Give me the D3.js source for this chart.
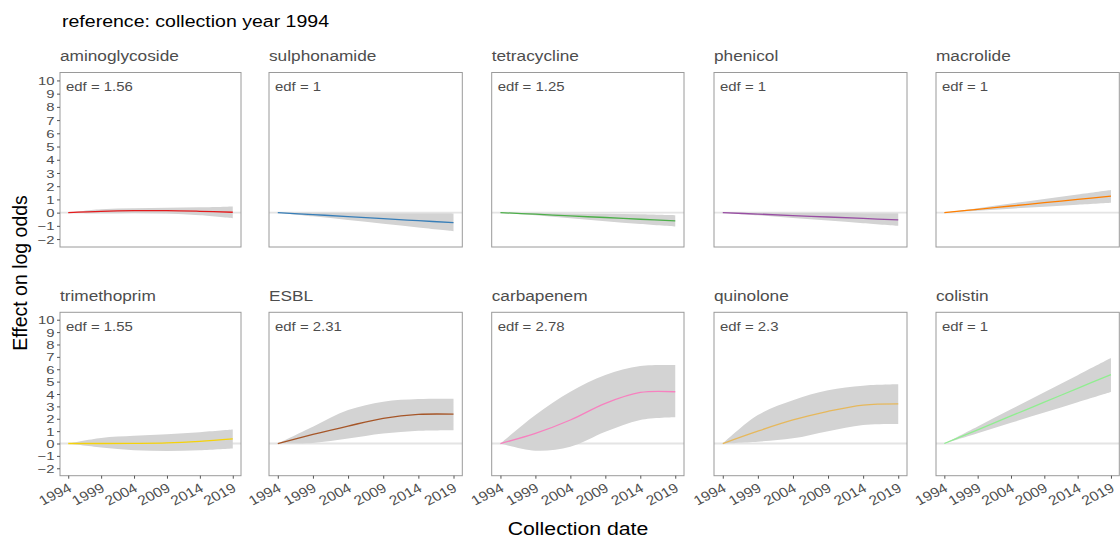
<!DOCTYPE html>
<html>
<head>
<meta charset="utf-8">
<script src="https://cdn.jsdelivr.net/npm/d3@7"></script>
<style>
  html, body { margin: 0; padding: 0; background: #ffffff; }
  svg { display: block; font-family: "Liberation Sans", Arial, Helvetica, sans-serif; }
</style>
</head>
<body>
<svg id="chart" width="1120" height="540"></svg>
<script>
// Smooth effect of collection year on log odds of resistance, per antimicrobial class
const years = [1994, 1999, 2004, 2009, 2014, 2019];
const classes = ["aminoglycoside", "sulphonamide", "tetracycline", "phenicol", "macrolide",
                 "trimethoprim", "ESBL", "carbapenem", "quinolone", "colistin"];
const edf = ["1.56", "1", "1.25", "1", "1", "1.55", "2.31", "2.78", "2.3", "1"];
const lineColors = ["#e41a1c", "#377eb8", "#4daf4a", "#984ea3", "#ff7f00",
                    "#f5d20a", "#a65628", "#f781bf", "#e6b85c", "#90ee90"];

const aminoglycosideFit   = [0, 0.10, 0.15, 0.15, 0.10, 0.03];
const aminoglycosideLower = [0, -0.05, -0.03, -0.07, -0.20, -0.42];
const aminoglycosideUpper = [0, 0.25, 0.33, 0.37, 0.40, 0.47];

const sulphonamideFit   = [0, -0.15, -0.30, -0.46, -0.61, -0.76];
const sulphonamideLower = [0, -0.28, -0.56, -0.84, -1.12, -1.40];
const sulphonamideUpper = [0, -0.01, -0.02, -0.04, -0.05, -0.06];

const tetracyclineFit   = [0, -0.12, -0.25, -0.37, -0.50, -0.63];
const tetracyclineLower = [0, -0.20, -0.43, -0.65, -0.86, -1.05];
const tetracyclineUpper = [0, -0.03, -0.06, -0.09, -0.13, -0.20];

const phenicolFit   = [0, -0.11, -0.22, -0.33, -0.44, -0.55];
const phenicolLower = [0, -0.20, -0.40, -0.60, -0.80, -1.00];
const phenicolUpper = [0, -0.01, -0.02, -0.03, -0.04, -0.05];

const macrolideFit   = [0, 0.25, 0.50, 0.75, 1.00, 1.25];
const macrolideLower = [0, 0.15, 0.30, 0.45, 0.60, 0.75];
const macrolideUpper = [0, 0.34, 0.69, 1.03, 1.38, 1.72];

const trimethoprimFit   = [0, 0.00, 0.01, 0.05, 0.18, 0.37];
const trimethoprimLower = [0, -0.32, -0.54, -0.60, -0.54, -0.40];
const trimethoprimUpper = [0, 0.45, 0.62, 0.75, 0.92, 1.13];

const esblFit   = [0, 0.73, 1.41, 2.03, 2.35, 2.37];
const esblLower = [0, 0.05, 0.40, 0.80, 1.03, 1.08];
const esblUpper = [0, 1.36, 2.70, 3.38, 3.60, 3.62];

const carbapenemFit   = [0, 0.82, 1.90, 3.25, 4.13, 4.18];
const carbapenemLower = [0, -0.58, -0.26, 0.95, 1.90, 2.12];
const carbapenemUpper = [0, 2.30, 4.18, 5.53, 6.26, 6.34];

const quinoloneFit   = [0, 1.00, 1.90, 2.60, 3.10, 3.20];
const quinoloneLower = [0, 0.15, 0.42, 1.00, 1.50, 1.58];
const quinoloneUpper = [0, 2.30, 3.50, 4.30, 4.67, 4.78];

const colistinFit   = [0, 1.11, 2.23, 3.34, 4.46, 5.57];
const colistinLower = [0, 0.83, 1.67, 2.50, 3.34, 4.17];
const colistinUpper = [0, 1.38, 2.76, 4.14, 5.52, 6.90];

const yTicks = [-2, -1, 0, 1, 2, 3, 4, 5, 6, 7, 8, 9, 10];
const xTicks = [1994, 1999, 2004, 2009, 2014, 2019];

const fits   = [aminoglycosideFit, sulphonamideFit, tetracyclineFit, phenicolFit, macrolideFit,
                trimethoprimFit, esblFit, carbapenemFit, quinoloneFit, colistinFit];
const lowers = [aminoglycosideLower, sulphonamideLower, tetracyclineLower, phenicolLower, macrolideLower,
                trimethoprimLower, esblLower, carbapenemLower, quinoloneLower, colistinLower];
const uppers = [aminoglycosideUpper, sulphonamideUpper, tetracyclineUpper, phenicolUpper, macrolideUpper,
                trimethoprimUpper, esblUpper, carbapenemUpper, quinoloneUpper, colistinUpper];

// panel grid (5 columns x 2 rows)
const colBounds = [[60, 241], [269, 462.3], [491.7, 684], [714, 907], [936, 1119.3]];
const rowBounds = [[72.5, 247], [312.3, 475.7]];
const textStretch = 1.15;   // wide lettering
const greyText = "#4d4d4d";
const smooth = d3.curveCatmullRom.alpha(0.5);

const svg = d3.select("#chart");
const defs = svg.append("defs");

// text with horizontal widening, anchored at (x, y)
function wideText(parent, x, y, str, opts) {
  const t = parent.append("text")
    .attr("transform", `translate(${x},${y}) scale(${textStretch},1)` + (opts.rotate ? ` rotate(${opts.rotate})` : ""))
    .attr("font-size", opts.size)
    .attr("fill", opts.fill || greyText)
    .attr("text-anchor", opts.anchor || "start")
    .text(str);
  if (opts.dy) t.attr("dy", opts.dy);
  return t;
}

wideText(svg, 62, 26.5, "reference: collection year 1994", {size: 17, fill: "#000"});

classes.forEach((name, i) => {
  const col = i % 5, row = Math.floor(i / 5);
  const [x0, x1] = colBounds[col];
  const [y0, y1] = rowBounds[row];

  const x = d3.scaleLinear().domain([1992.75, 2020.25]).range([x0, x1]);
  const y = d3.scaleLinear().domain([-2.6, 10.6]).range([y1, y0]);

  const clipId = "clip" + i;
  defs.append("clipPath").attr("id", clipId)
    .append("rect").attr("x", x0).attr("y", y0).attr("width", x1 - x0).attr("height", y1 - y0);

  const g = svg.append("g");
  const inner = g.append("g").attr("clip-path", `url(#${clipId})`);

  // zero reference line
  inner.append("line")
    .attr("x1", x0).attr("x2", x1)
    .attr("y1", y(0)).attr("y2", y(0))
    .attr("stroke", "#e4e4e4").attr("stroke-width", 1.8);

  const pts = years.map((yr, k) => ({yr, fit: fits[i][k], lo: lowers[i][k], hi: uppers[i][k]}));

  const area = d3.area()
    .x(d => x(d.yr)).y0(d => y(d.lo)).y1(d => y(d.hi))
    .curve(smooth);
  inner.append("path").datum(pts).attr("d", area).attr("fill", "#d3d3d3");

  const line = d3.line().x(d => x(d.yr)).y(d => y(d.fit)).curve(smooth);
  inner.append("path").datum(pts).attr("d", line)
    .attr("fill", "none").attr("stroke", lineColors[i]).attr("stroke-width", 1.3);

  // panel frame
  g.append("rect")
    .attr("x", x0).attr("y", y0).attr("width", x1 - x0).attr("height", y1 - y0)
    .attr("fill", "none").attr("stroke", "#9a9a9a").attr("stroke-width", 1);

  // edf annotation and facet title
  wideText(g, x0 + 6, y0 + 18.5, "edf = " + edf[i], {size: 13});
  wideText(g, x0, y0 - 11.3, name, {size: 15});

  // y axis on first column (compact digits so the dense ticks stay apart)
  if (col === 0) {
    const ax = g.append("g").attr("transform", `translate(${x0},0)`)
      .call(d3.axisLeft(y).tickValues(yTicks).tickSize(3).tickPadding(2).tickFormat(d3.format("d")));
    ax.select(".domain").remove();
    ax.selectAll(".tick line").attr("stroke", "#555");
    ax.selectAll(".tick text")
      .attr("font-size", 10.6).attr("fill", greyText)
      .attr("font-family", "Liberation Sans, Arial, sans-serif")
      .attr("x", null).attr("dy", null)
      .attr("transform", "translate(-5.5,4.1) scale(1.4,1.06)")
      .text(d => d < 0 ? "\u2212" + Math.abs(d) : d);
  }

  // x axis on bottom row
  if (row === 1) {
    const ax = g.append("g").attr("transform", `translate(0,${y1})`)
      .call(d3.axisBottom(x).tickValues(xTicks).tickSize(3).tickFormat(d3.format("d")));
    ax.select(".domain").remove();
    ax.selectAll(".tick line").attr("stroke", "#555");
    ax.selectAll(".tick text")
      .attr("font-size", 13.5).attr("fill", greyText)
      .attr("font-family", "Liberation Sans, Arial, sans-serif")
      .attr("y", null).attr("dy", null)
      .attr("text-anchor", "end")
      .attr("transform", `translate(4,15) scale(${textStretch},1) rotate(-30)`);
  }
});

// axis titles
wideText(svg, 578, 535, "Collection date", {size: 18.5, fill: "#000", anchor: "middle"});
svg.append("text")
  .attr("transform", "translate(27,273) rotate(-90) scale(1,1.05)")
  .attr("font-size", 19.5).attr("fill", "#000").attr("text-anchor", "middle")
  .text("Effect on log odds");
</script>
</body>
</html>
